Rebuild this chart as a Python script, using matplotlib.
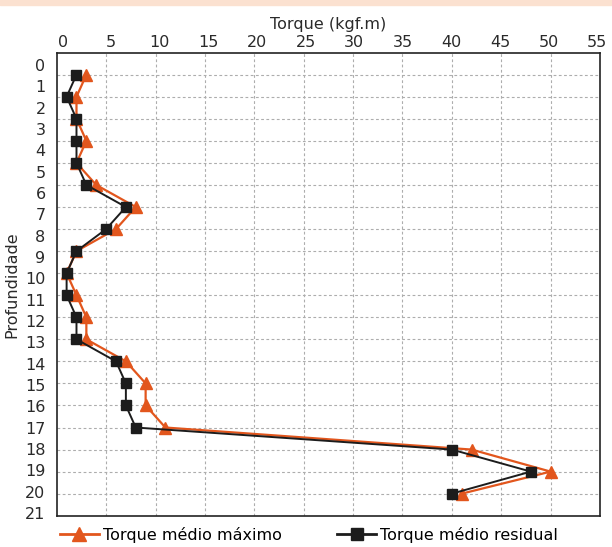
import matplotlib
matplotlib.use("Agg")
import matplotlib.pyplot as plt
from matplotlib.lines import Line2D
from matplotlib.patches import Rectangle
import numpy as np

depth = list(range(1, 21))
torque_max = [3, 2, 2, 3, 2, 4, 8, 6, 2, 1, 2, 3, 3, 7, 9, 9, 11, 42, 50, 41]
torque_res = [2, 1, 2, 2, 2, 3, 7, 5, 2, 1, 1, 2, 2, 6, 7, 7, 8, 40, 48, 40]
x_labels = [str(v) for v in range(0, 60, 5)]
y_labels = [str(v) for v in range(0, 22)]

orange = "#E2561D"
black = "#1C1C1C"
txt = "#2a2a2a"

plt.rcParams['font.family'] = ['DejaVu Sans']

fig = plt.figure(figsize=(6.12, 5.47), dpi=100)
fig.patches.append(Rectangle((0.0, 0.99), 1.0, 0.01, transform=fig.transFigure,
                             color="#FBE1D0", zorder=0))

ax = fig.add_axes([0.0927, 0.0572, 0.8877, 0.8465])

ax.plot(torque_max, depth, color=orange, lw=1.6, marker="^", ms=9,
        label="Torque médio máximo", zorder=3)
ax.plot(torque_res, depth, color=black, lw=1.4, marker="s", ms=7.5,
        label="Torque médio residual", zorder=4)

ax.set_xlim(0, 55)
ax.set_ylim(21, 0)

# grid on minor ticks, labels on major ticks (labels sit a bit offset as in the original)
ax.set_xticks(np.arange(5, 55, 5), minor=True)
ax.set_yticks(np.arange(1, 21), minor=True)
ax.set_xticks(np.linspace(0.6, 54.7, len(x_labels)))
ax.set_xticklabels(x_labels)
ax.set_yticks(np.linspace(0.56, 20.88, len(y_labels)))
ax.set_yticklabels(y_labels)
ax.grid(which="minor", color="#adadad", linestyle=(0, (2.5, 2.2)), lw=0.8)
ax.grid(which="major", visible=False)
ax.tick_params(which="both", length=0, labelsize=11.5, colors=txt)
ax.tick_params(axis="x", top=True, bottom=False, labeltop=True, labelbottom=False, pad=2)
ax.tick_params(axis="y", pad=8)

ax.xaxis.set_label_position("top")
ax.set_xlabel("Torque (kgf.m)", fontsize=11.5, labelpad=4, color=txt)
ax.set_ylabel("Profundidade", fontsize=11.5, labelpad=4, color=txt)

for s in ax.spines.values():
    s.set_color("#222222")
    s.set_linewidth(1.2)

handles = [Line2D([], [], color=orange, lw=2, marker="^", ms=10),
           Line2D([], [], color=black, lw=2, marker="s", ms=9)]
fig.legend(handles, ["Torque médio máximo", "Torque médio residual"],
           loc="center left", bbox_to_anchor=(0.075, 0.022), ncol=2, frameon=False,
           fontsize=11.5, handlelength=2.4, handletextpad=0.25, columnspacing=3.5)

plt.savefig("out.png", dpi=100)
